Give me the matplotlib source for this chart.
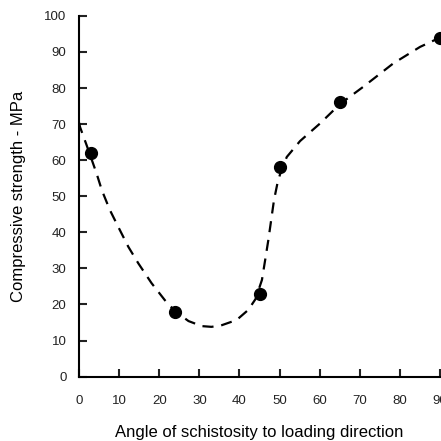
import matplotlib
matplotlib.use('Agg')
import matplotlib.pyplot as plt

plt.rcParams['font.family'] = ['Liberation Sans', 'DejaVu Sans']

# measured strength at each angle
angle = [3, 24, 45, 50, 65, 90]
strength = [62, 18, 23, 58, 76, 94]

# trend line through the measurements
trend_x = [0, 0.3, 1.9, 4.4, 5.7, 7.7, 9.8, 12.3, 14.8, 18.1, 21.4, 23.9, 27.3, 30.6,
           33.0, 35.2, 39.3, 42.2, 44.0, 45.6, 46.4, 47.2, 47.9, 48.6, 49.5, 50.5,
           51.8, 55.1, 60.1, 65.1, 70.8, 78.3, 85.0, 90.0]
trend_y = [70.5, 69.1, 64.2, 56.3, 51.7, 46.2, 41.5, 36.0, 31.4, 25.9, 21.2, 18.2, 15.4, 14.0,
           13.8, 14.1, 15.7, 18.5, 21.5, 26.8, 32.3, 37.9, 43.4, 48.9, 53.8, 57.5,
           60.9, 65.3, 70.2, 75.6, 80.3, 86.8, 91.4, 94.0]

fig = plt.figure(figsize=(4.41, 4.41), dpi=100)
ax = fig.add_axes([0.179, 0.146, 0.819, 0.818])

ax.plot(trend_x, trend_y, color='black', lw=1.6, dashes=(5, 3.5), zorder=2)
ax.plot(angle, strength, 'o', color='black', ms=8.5, zorder=3)

ax.set_xlim(0, 90)
ax.set_ylim(0, 100)
ax.set_xticks(range(0, 91, 10))
ax.set_yticks(range(0, 101, 10))

for s in ['top', 'right']:
    ax.spines[s].set_visible(False)
for s in ['left', 'bottom']:
    ax.spines[s].set_linewidth(1.5)

ax.tick_params(direction='in', length=6, width=1.5, labelsize=9.5, pad=9, colors='#222222')
ax.tick_params(axis='x', pad=13.5)

ax.set_xlabel('Angle of schistosity to loading direction', fontsize=12, labelpad=13)
ax.set_ylabel('Compressive strength - MPa', fontsize=12, labelpad=13)

fig.savefig('out.png', dpi=100, facecolor='white')
